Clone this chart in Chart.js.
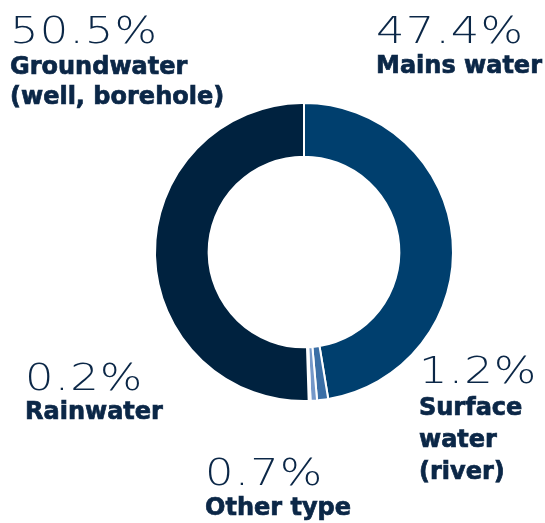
<!DOCTYPE html>
<html><head><meta charset="utf-8">
<script src="https://cdn.jsdelivr.net/npm/chart.js@4.4.0/dist/chart.umd.min.js"></script>
<style>html,body{margin:0;padding:0;background:#fff}#wrap{width:545px;height:523px;position:relative}</style>
</head><body><div id="wrap"><canvas id="c" width="545" height="523"></canvas></div>
<script>
// Water source shares, clockwise from 12 o'clock
const categories = ['Mains water', 'Surface water (river)', 'Other type', 'Rainwater', 'Groundwater (well, borehole)'];
const shares = [47.4, 1.2, 0.7, 0.2, 50.5];
const labelLines = [['Mains water'], ['Surface', 'water', '(river)'], ['Other type'], ['Rainwater'], ['Groundwater', '(well, borehole)']];
const sliceColors = ['#003f6e', '#3b6fa6', '#7598c9', '#eef3f9', '#00223f'];

const TEXT = '#0b2747';
// where each callout sits: left x, percent baseline, baselines of the name lines
const callouts = [
  {x: 376, pct: 43, lines: [73]},
  {x: 419, pct: 383, lines: [415, 447, 479]},
  {x: 205, pct: 485, lines: [515]},
  {x: 25, pct: 390, lines: [419]},
  {x: 10, pct: 43, lines: [74, 104]}
];

const calloutPlugin = {
  id: 'callouts',
  afterDraw(chart) {
    const ctx = chart.ctx;
    ctx.save();
    ctx.fillStyle = TEXT;
    ctx.strokeStyle = TEXT;
    ctx.textBaseline = 'alphabetic';
    ctx.textAlign = 'left';
    shares.forEach((v, i) => {
      const c = callouts[i];
      // thin, wide percentage figure
      ctx.save();
      ctx.translate(c.x, c.pct);
      ctx.scale(1.18, 1);
      ctx.font = '200 38px "DejaVu Sans"';
      ctx.letterSpacing = '1px';
      ctx.fillText(v.toFixed(1) + '%', 0, 0);
      ctx.restore();
      // heavy category name
      ctx.font = 'bold 24px "DejaVu Sans"';
      ctx.letterSpacing = '0px';
      ctx.lineWidth = 0.7;
      labelLines[i].forEach((t, k) => {
        ctx.fillText(t, c.x, c.lines[k]);
        ctx.strokeText(t, c.x, c.lines[k]);
      });
    });
    ctx.restore();
  }
};

new Chart(document.getElementById('c'), {
  type: 'doughnut',
  data: {
    labels: categories,
    datasets: [{
      data: shares,
      backgroundColor: sliceColors,
      borderColor: '#ffffff',
      borderWidth: 2,
      hoverOffset: 0
    }]
  },
  options: {
    responsive: false,
    animation: false,
    devicePixelRatio: 1,
    cutout: '64%',
    layout: {padding: {left: 154, right: 91, top: 102, bottom: 121}},
    plugins: {legend: {display: false}, tooltip: {enabled: false}}
  },
  plugins: [calloutPlugin]
});
</script>
</body></html>
